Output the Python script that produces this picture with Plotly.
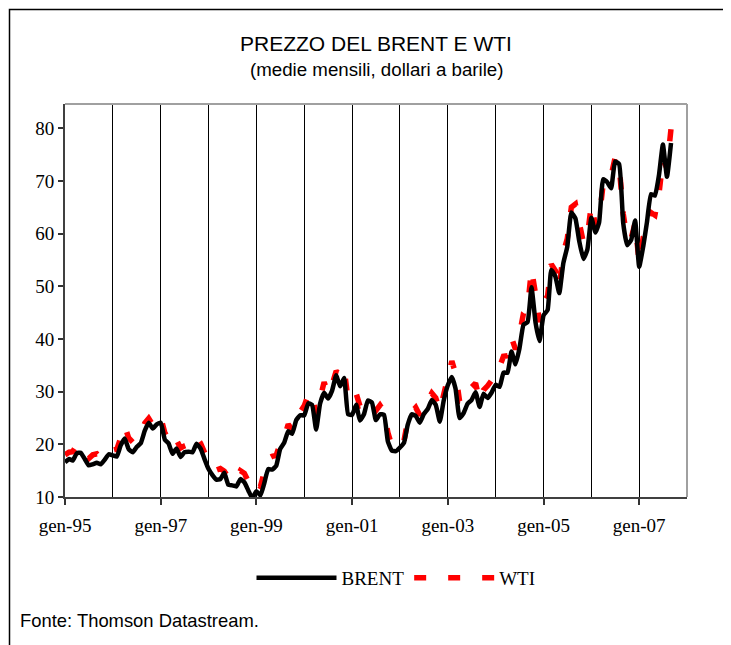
import pandas as pd
import plotly.graph_objects as go

# Monthly dates Jan-1995 .. Sep-2007
months = pd.date_range("1995-01-01", "2007-09-01", freq="MS")

brent = [
    16.6, 17.2, 16.9, 18.3, 18.4, 17.2, 16.0, 16.2, 16.5, 16.2, 17.1, 18.1,   # 1995
    17.9, 17.7, 19.8, 21.1, 19.1, 18.5, 19.5, 20.2, 22.6, 24.1, 23.0, 23.8,   # 1996
    24.1, 20.9, 20.2, 18.2, 19.2, 17.6, 18.5, 18.6, 18.5, 20.1, 19.2, 17.2,   # 1997
    15.3, 14.1, 13.3, 13.4, 14.6, 12.3, 12.2, 12.0, 13.4, 12.8, 11.2, 9.8,    # 1998
    11.1, 10.3, 12.5, 15.3, 15.2, 15.9, 19.1, 20.3, 22.5, 22.0, 24.6, 25.5,   # 1999
    25.5, 27.8, 27.5, 22.8, 27.7, 29.8, 28.7, 30.2, 33.1, 31.0, 32.6, 25.7,   # 2000
    25.6, 27.5, 24.5, 25.7, 28.3, 27.9, 24.6, 25.7, 25.6, 20.5, 18.8, 18.7,   # 2001
    19.4, 20.3, 23.7, 25.7, 25.4, 24.1, 25.7, 26.7, 28.4, 27.5, 24.3, 28.3,   # 2002
    31.2, 32.8, 30.6, 25.0, 25.9, 27.7, 28.4, 29.9, 27.1, 29.6, 28.8, 29.8,   # 2003
    31.3, 30.9, 33.6, 33.6, 37.6, 35.2, 38.2, 42.7, 43.2, 49.8, 43.1, 39.6,   # 2004
    44.5, 45.5, 53.1, 51.9, 48.7, 54.4, 57.5, 64.0, 62.9, 58.5, 55.2, 56.9,   # 2005
    63.0, 60.2, 62.1, 70.3, 69.8, 68.6, 73.7, 73.2, 62.0, 57.8, 58.8, 62.5,   # 2006
    53.7, 57.6, 62.1, 67.5, 67.2, 71.1, 76.9, 70.8, 77.2,                     # 2007
]

wti = [
    18.0, 18.5, 18.6, 19.9, 19.7, 18.5, 17.3, 18.0, 18.2, 17.4, 18.0, 19.0,   # 1995
    18.9, 19.1, 21.3, 23.5, 21.2, 20.4, 21.3, 21.9, 24.0, 24.9, 23.7, 25.2,   # 1996
    25.1, 22.2, 21.0, 19.7, 20.8, 19.3, 19.7, 20.0, 19.8, 21.3, 20.2, 18.3,   # 1997
    16.7, 16.1, 15.1, 15.4, 14.9, 13.7, 14.2, 13.5, 15.0, 14.5, 13.0, 11.4,   # 1998
    12.5, 12.0, 14.7, 17.3, 17.7, 17.9, 20.1, 21.3, 23.8, 22.7, 25.0, 26.1,   # 1999
    27.3, 29.4, 29.8, 25.7, 28.8, 31.8, 29.7, 31.3, 33.9, 33.1, 34.4, 28.4,   # 2000
    29.6, 29.6, 27.3, 27.5, 28.6, 27.6, 26.4, 27.4, 26.2, 22.2, 19.6, 19.4,   # 2001
    19.7, 20.7, 24.5, 26.2, 27.0, 25.5, 27.0, 28.4, 29.7, 28.8, 26.4, 29.5,   # 2002
    33.0, 35.8, 33.5, 28.2, 28.1, 30.7, 30.8, 31.6, 28.3, 30.3, 31.1, 32.1,   # 2003
    34.3, 34.7, 36.7, 36.8, 40.3, 38.0, 40.8, 44.9, 45.9, 53.3, 48.5, 43.2,   # 2004
    46.8, 48.2, 54.2, 53.0, 49.8, 56.4, 59.0, 65.0, 65.6, 62.3, 58.3, 59.4,   # 2005
    65.5, 61.6, 62.7, 69.4, 70.8, 71.0, 74.4, 73.0, 63.8, 58.9, 59.1, 62.0,   # 2006
    54.5, 59.3, 60.4, 64.0, 63.5, 67.5, 74.1, 72.4, 79.9,                     # 2007
]

tick_dates = ["1995-01-01", "1997-01-01", "1999-01-01", "2001-01-01",
              "2003-01-01", "2005-01-01", "2007-01-01"]
tick_labels = ["gen-95", "gen-97", "gen-99", "gen-01", "gen-03", "gen-05", "gen-07"]
y_ticks = [10, 20, 30, 40, 50, 60, 70, 80]

SERIF = "Liberation Serif, Times New Roman, serif"
SANS = "Liberation Sans, Arial, sans-serif"

fig = go.Figure()
fig.add_trace(go.Scatter(
    x=months, y=wti, mode="lines", name="WTI", legendrank=2,
    line=dict(color="#ff0000", width=5.5, dash="12px,22px"),
))
fig.add_trace(go.Scatter(
    x=months, y=brent, mode="lines", name="BRENT", legendrank=1,
    line=dict(color="#000000", width=4.5, shape="spline", smoothing=0.4),
))

# The page body adds an 8px offset; figure is sized to fill the window from there.
OFF = 8
W, H = 731 - OFF, 645 - OFF
# plot-area edges in window pixels
PL, PR, PT, PB = 65, 687, 104, 497
L, T = PL - OFF, PT - OFF
R, B = 731 - PR, 645 - PB
pw, ph = PR - PL, PB - PT
def px(x):
    return (x - PL) / pw
def py(y):
    return (PB - y) / ph

fig.update_layout(
    width=W, height=H,
    margin=dict(l=L, r=R, t=T, b=B),
    paper_bgcolor="white", plot_bgcolor="white",
    showlegend=True,
    legend=dict(orientation="h", x=px(396), xanchor="center", y=py(578), yanchor="middle",
                font=dict(family=SERIF, size=19, color="black"),
                itemwidth=80, bgcolor="rgba(0,0,0,0)"),
    xaxis=dict(
        type="date", range=["1995-01-01", "2008-01-01"],
        tickmode="array", tickvals=tick_dates, ticktext=tick_labels,
        ticks="outside", ticklen=6, tickwidth=1.5, tickcolor="#333",
        ticklabelstandoff=4,
        tickfont=dict(family=SERIF, size=19, color="black"),
        showgrid=True, gridcolor="black", gridwidth=1,
        minor=dict(dtick="M12", tick0="1995-01-01", showgrid=True,
                   gridcolor="black", gridwidth=1, ticks=""),
        showline=True, linecolor="#404040", linewidth=2,
        zeroline=False,
    ),
    yaxis=dict(
        range=[10, 84.6], tickvals=y_ticks,
        ticks="outside", ticklen=5, tickwidth=1.5, tickcolor="#333",
        tickfont=dict(family=SERIF, size=19, color="black"),
        showgrid=False, zeroline=False,
        showline=True, linecolor="#404040", linewidth=2,
    ),
    shapes=[
        # top & right borders of the plot area
        dict(type="line", xref="paper", yref="paper", x0=0, x1=1, y0=1, y1=1,
             line=dict(color="#a0a0a0", width=2)),
        dict(type="line", xref="paper", yref="paper", x0=1, x1=1, y0=0, y1=1,
             line=dict(color="#a0a0a0", width=2)),
        # outer frame
        dict(type="rect", xref="paper", yref="paper",
             x0=px(9.5), x1=px(727), y0=py(660), y1=py(9.5),
             line=dict(color="black", width=1.5), layer="below"),
    ],
    annotations=[
        dict(text="PREZZO DEL BRENT E WTI", xref="paper", yref="paper",
             x=0.5, y=py(43), xanchor="center", yanchor="middle", showarrow=False,
             font=dict(family=SANS, size=21, color="black")),
        dict(text="(medie mensili, dollari a barile)", xref="paper", yref="paper",
             x=0.5, y=py(69), xanchor="center", yanchor="middle", showarrow=False,
             font=dict(family=SANS, size=18.7, color="black")),
        dict(text="Fonte: Thomson Datastream.", xref="paper", yref="paper",
             x=px(18), y=py(620), xanchor="left", yanchor="middle", showarrow=False,
             font=dict(family=SANS, size=18.4, color="black")),
    ],
)

fig.write_html("out.html")
